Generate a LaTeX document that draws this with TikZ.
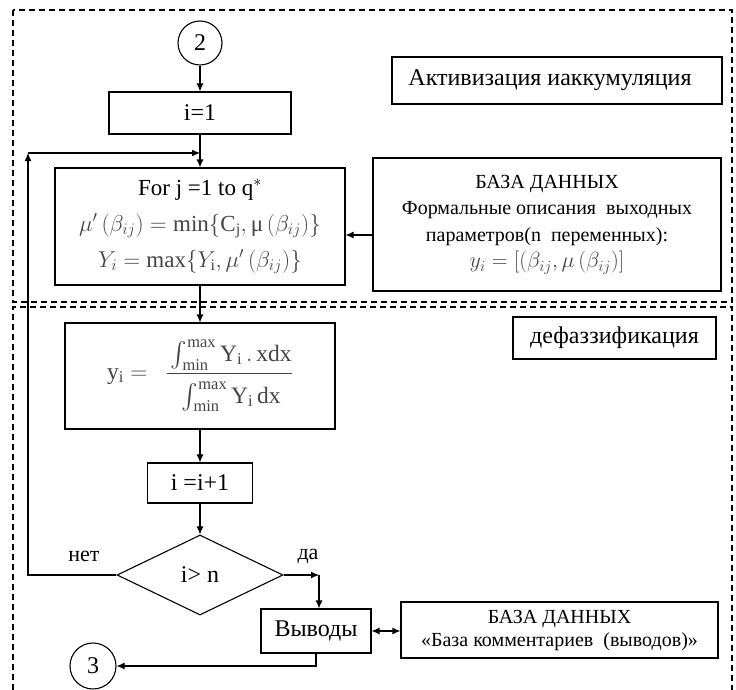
\documentclass[tikz,border=0pt]{standalone}
\usepackage{fix-cm}
\usepackage{amsmath}
\usepackage{fontspec}
\setmainfont{Liberation Serif}
\usetikzlibrary{arrows.meta,shapes.geometric}
\definecolor{mgray}{HTML}{454545}
\tikzset{
  box/.style={draw, line width=1.1pt, inner sep=2pt, align=center},
  big/.style={font=\fontsize{24}{28}\selectfont},
  mid/.style={font=\fontsize{20}{26.5}\selectfont},
  lbl/.style={font=\fontsize{22}{24}\selectfont},
  arr/.style={line width=1.1pt, -{Latex[length=8pt,width=7pt]}},
  dbl/.style={line width=1.1pt, {Latex[length=8pt,width=7pt]}-{Latex[length=8pt,width=7pt]}},
  dashbox/.style={line width=1.1pt, dash pattern=on 6pt off 4pt},
  conn/.style={draw, circle, line width=1.1pt, inner sep=0pt},
}
\begin{document}
\begin{tikzpicture}[x=1pt,y=-1pt]
\useasboundingbox (0,0) rectangle (736,690);
\draw[dashbox] (13,10) rectangle (732,302);
\draw[dashbox] (13,690) -- (13,307) -- (732,307) -- (732,690);

\node[conn,big,minimum size=44pt] (c2) at (200,43) {2};
\node[box,big,minimum width=182pt,minimum height=42pt] (init) at (200,113) {i=1};
\node[box,big,minimum width=330pt,minimum height=47pt] (act) at (557,80.5) {Активизация иаккумуляция\hspace{14pt}};
\node[box,minimum width=290pt,minimum height=117pt,font=\fontsize{23}{36}\selectfont] (forb) at (200,226.5)
  {For j =1 to q$^{*}$\\
   \textcolor{mgray}{$\mu'\left(\beta_{ij}\right) = \min\{\mathrm{C_j},\mbox{μ}\left(\beta_{ij}\right)\}$}\\
   \textcolor{mgray}{$Y_i = \max\{Y_{\mathrm{i}},\mu'\left(\beta_{ij}\right)\}$}};
\node[box,mid,minimum width=348pt,minimum height=133pt] (db1) at (547,224.5)
  {БАЗА ДАННЫХ\\
   Формальные описания~~выходных\\
   параметров(n~~переменных):\\
   {\fontsize{22}{26.5}\selectfont\textcolor{mgray}{$y_i = [(\beta_{ij},\mu\left(\beta_{ij}\right)]$}}};
\node[box,minimum width=270pt,minimum height=106pt,font=\fontsize{23.5}{26}\selectfont] (frm) at (200,376)
  {\textcolor{mgray}{$\displaystyle \mathrm{y_i} =\ \ \frac{\rule[-6pt]{0pt}{6pt}\int_{\min}^{\max}\mathrm{Y_i}\,.\,\mathrm{xdx}}{\rule{0pt}{26pt}\int_{\min}^{\max}\mathrm{Y_i}\,\mathrm{dx}}$}};
\node[box,big,minimum width=203pt,minimum height=42pt] (defz) at (614.5,338) {дефаззификация};
\node[box,big,minimum width=105pt,minimum height=40pt] (inc) at (200,483) {i =i+1};
\node[draw,diamond,line width=1.1pt,minimum width=166pt,minimum height=80pt,inner sep=0pt,big] (dia) at (200,575) {i> n};
\node[box,big,minimum width=110pt,minimum height=44pt] (out) at (316,631) {Выводы};
\node[box,minimum width=317pt,minimum height=56pt,font=\fontsize{20}{23}\selectfont] (db2) at (559.5,630)
  {БАЗА ДАННЫХ\\ «База комментариев~~(выводов)»};
\node[conn,big,minimum size=46pt] (c3) at (93,666) {3};
\node[lbl] (no) at (84,556) {нет};
\node[lbl] (yes) at (308,556) {да};

\coordinate (J) at (200,153);
\coordinate (L) at (28,153);
\coordinate (R) at (319,575);
\draw[arr] (c2) -- (init);
\draw[arr] (init) -- (forb);
\draw[arr] (dia.west) -| (L);
\draw[arr] (L) -- (J);
\path ([yshift=-10.5pt]db1.west) coordinate (a1);
\draw[arr] (a1) -- (a1 -| forb.east);
\draw[arr] (forb) -- (frm);
\draw[arr] (frm) -- (inc);
\draw[arr] (inc) -- (dia);
\draw[arr] (dia.east) -- (R);
\draw[arr] (R) -- (R |- out.north);
\draw[dbl] (out.east) -- (out.east -| db2.west);
\draw[arr] (out.south) |- (c3.east);
\end{tikzpicture}
\end{document}
